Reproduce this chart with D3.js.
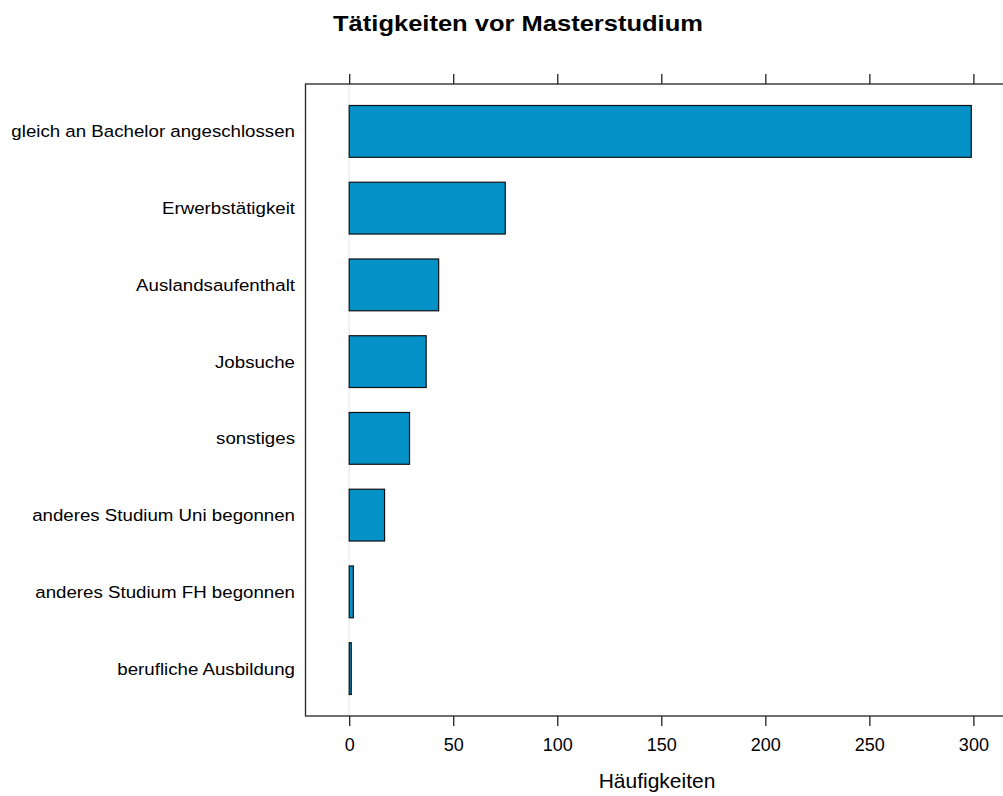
<!DOCTYPE html>
<html>
<head>
<meta charset="utf-8">
<script src="https://cdn.jsdelivr.net/npm/d3@7"></script>
<style>
  body { margin: 0; background: #fff; }
  text { font-family: "Liberation Sans", Arial, sans-serif; fill: #000; }
</style>
</head>
<body>
<svg id="chart"></svg>
<script>
const categories = [
  "gleich an Bachelor angeschlossen",
  "Erwerbstätigkeit",
  "Auslandsaufenthalt",
  "Jobsuche",
  "sonstiges",
  "anderes Studium Uni begonnen",
  "anderes Studium FH begonnen",
  "berufliche Ausbildung"
];
const counts = [299, 75, 43, 37, 29, 17, 2, 1];
const xTicks = [0, 50, 100, 150, 200, 250, 300];

const W = 1003, H = 796;
const panel = { left: 305.5, top: 84, right: 1015, bottom: 716 };

const svg = d3.select("#chart").attr("width", W).attr("height", H);

const x = d3.scaleLinear().domain([-21, 320]).range([panel.left, panel.right]);
const y = d3.scaleBand().domain(categories)
  .range([panel.top, panel.bottom]).paddingInner(0.325).paddingOuter(0.28);

// reference line at zero
svg.append("line")
  .attr("x1", x(0)).attr("x2", x(0))
  .attr("y1", panel.top).attr("y2", panel.bottom)
  .attr("stroke", "#e6e6e6").attr("stroke-width", 1);

// bars
svg.selectAll(".bar")
  .data(counts)
  .join("rect")
  .attr("class", "bar")
  .attr("x", x(0))
  .attr("y", (d, i) => y(categories[i]))
  .attr("width", (d) => x(d) - x(0))
  .attr("height", y.bandwidth())
  .attr("fill", "#0391c7")
  .attr("stroke", "#111")
  .attr("stroke-width", 1.2);

// panel border
svg.append("rect")
  .attr("x", panel.left).attr("y", panel.top)
  .attr("width", panel.right - panel.left).attr("height", panel.bottom - panel.top)
  .attr("fill", "none").attr("stroke", "#222").attr("stroke-width", 1.3);

// bottom axis
const bottomAxis = svg.append("g")
  .attr("transform", `translate(0, ${panel.bottom})`)
  .call(d3.axisBottom(x).tickValues(xTicks).tickSize(10).tickPadding(9).tickFormat(d3.format("d")));
bottomAxis.select(".domain").remove();
bottomAxis.selectAll("line").attr("stroke", "#222").attr("stroke-width", 1.3);
bottomAxis.selectAll("text")
  .attr("y", 35).attr("dy", null)
  .style("font-size", "18px").style("font-family", "Liberation Sans, Arial, sans-serif");

// top axis (ticks only)
const topAxis = svg.append("g")
  .attr("transform", `translate(0, ${panel.top})`)
  .call(d3.axisTop(x).tickValues(xTicks).tickSize(10).tickFormat(""));
topAxis.select(".domain").remove();
topAxis.selectAll("line").attr("stroke", "#222").attr("stroke-width", 1.3);

// category labels
svg.selectAll(".cat")
  .data(categories)
  .join("text")
  .attr("class", "cat")
  .attr("transform", (d) => `translate(295, ${y(d) + y.bandwidth() / 2}) scale(1.1, 1)`)
  .attr("dy", "0.35em")
  .attr("text-anchor", "end")
  .style("font-size", "17px")
  .text((d) => d);

// title
svg.append("text")
  .attr("transform", "translate(518, 31) scale(1.16, 1)")
  .attr("text-anchor", "middle")
  .style("font-size", "22px").style("font-weight", "bold")
  .text("Tätigkeiten vor Masterstudium");

// x label
svg.append("text")
  .attr("x", 657).attr("y", 788)
  .attr("text-anchor", "middle")
  .style("font-size", "21px")
  .text("Häufigkeiten");
</script>
</body>
</html>
